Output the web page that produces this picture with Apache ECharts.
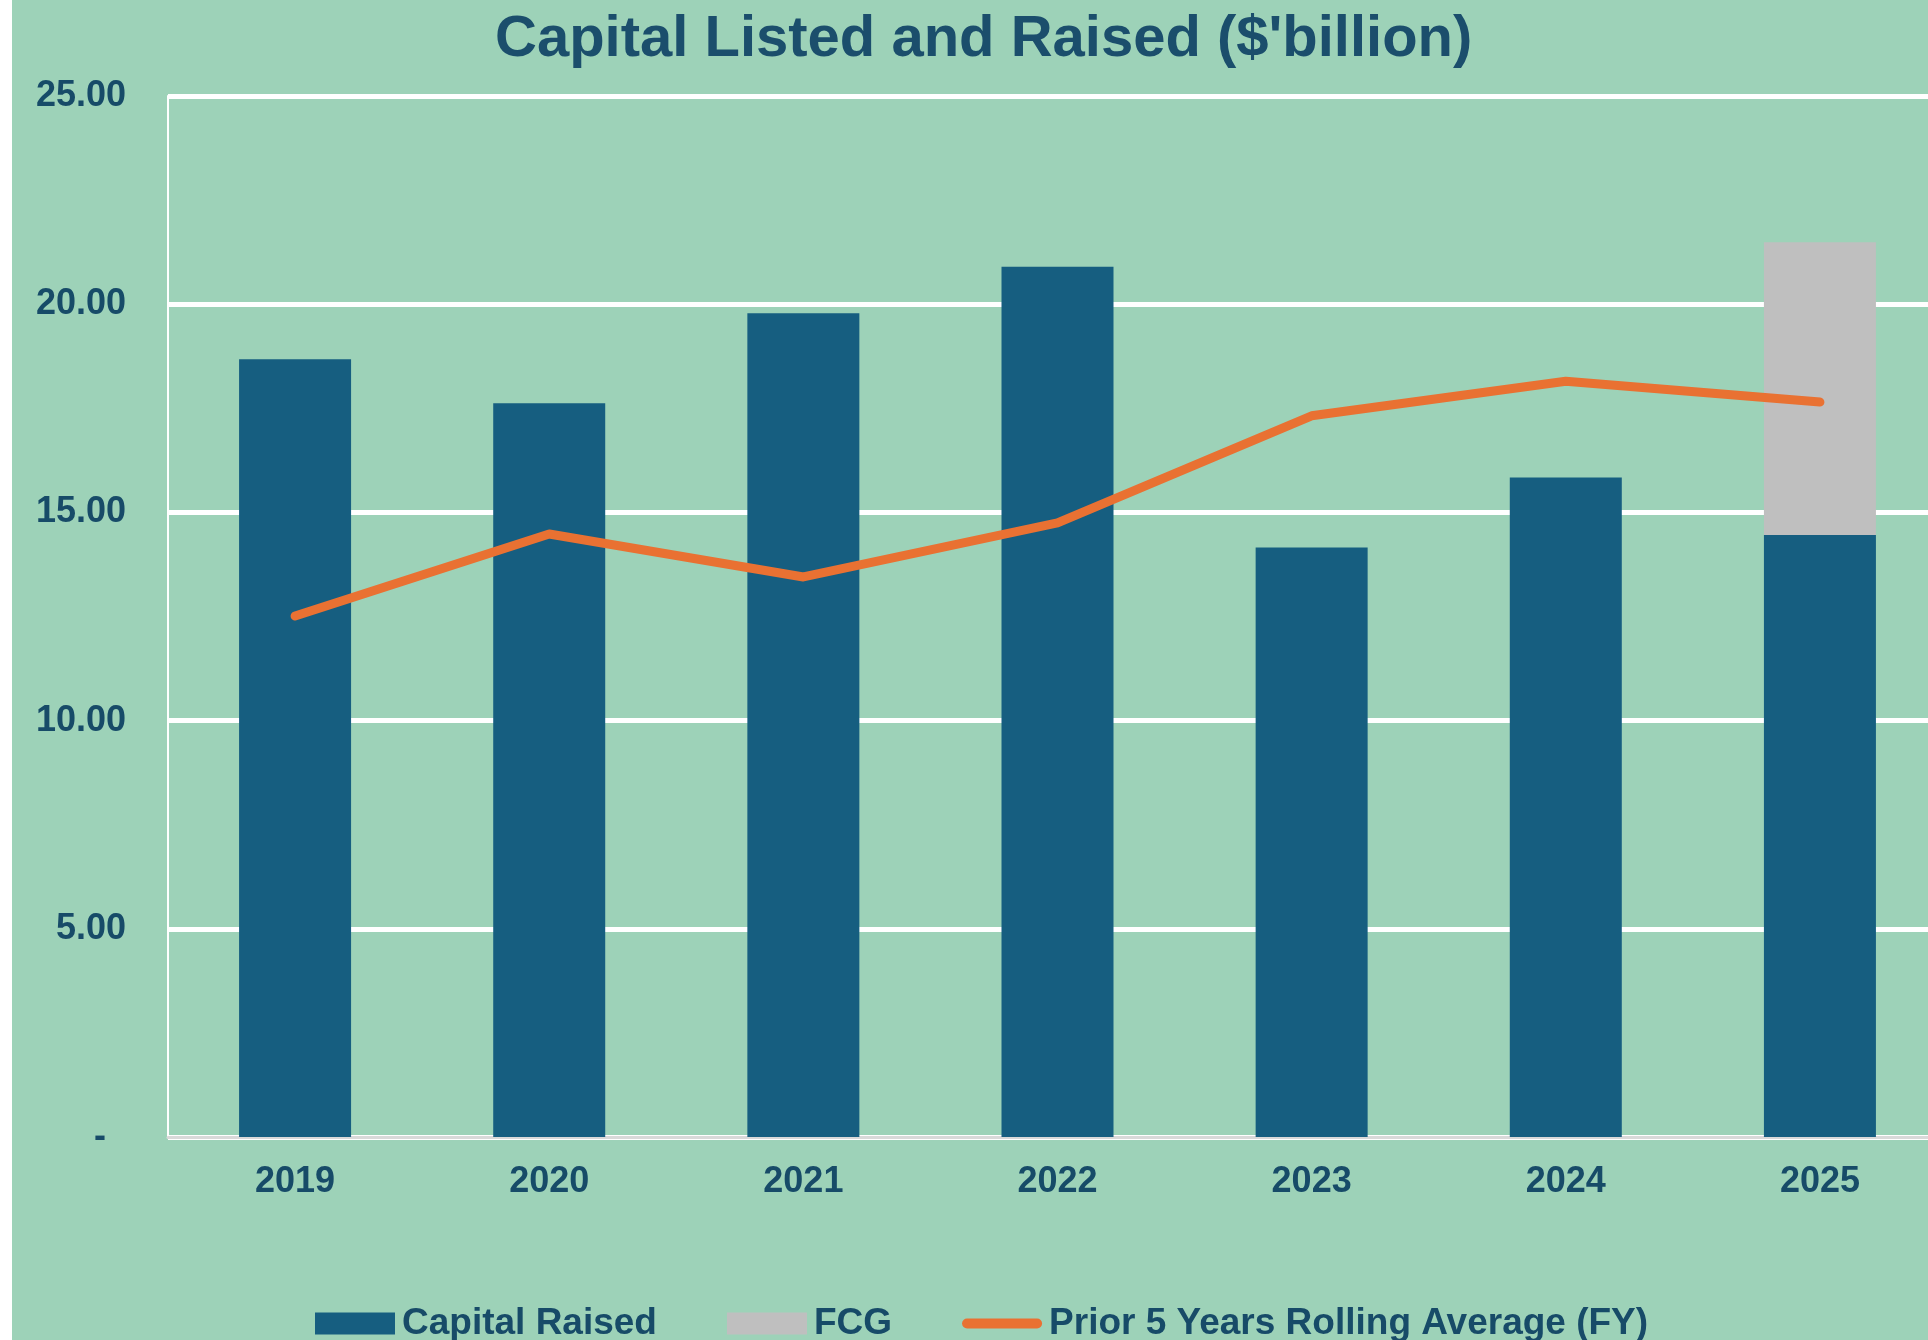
<!DOCTYPE html>
<html>
<head>
<meta charset="utf-8">
<script src="https://cdn.jsdelivr.net/npm/echarts@6/dist/echarts.min.js"></script>
<style>
  html, body { margin: 0; padding: 0; background: #ffffff; overflow: hidden; }
  #main { position: absolute; left: 12px; top: 0; width: 1960px; height: 1340px; }
</style>
</head>
<body>
<div id="main"></div>
<script>
// data
var years = ['2019', '2020', '2021', '2022', '2023', '2024', '2025'];
var capitalRaised = [18.68, 17.62, 19.78, 20.90, 14.16, 15.84, 14.46];
var fcg = [0, 0, 0, 0, 0, 0, 7.03];
var rollingAvg = [12.51, 14.48, 13.45, 14.75, 17.32, 18.15, 17.65];

var textColor = '#174b68';
var fontName = '"Liberation Sans", Arial, sans-serif';

var myChart = echarts.init(document.getElementById('main'));
var option = {
    backgroundColor: '#9dd2b8',
    animation: false,
    title: {
        text: "Capital Listed and Raised ($'billion)",
        left: 478,
        top: 6,
        textStyle: {
            color: '#1b4e6c',
            fontSize: 58,
            fontWeight: 'bold',
            fontFamily: fontName
        }
    },
    legend: {
        left: 298,
        top: 1300,
        itemGap: 70,
        itemWidth: 80,
        itemHeight: 22,
        textStyle: {
            color: textColor,
            fontSize: 37,
            fontWeight: 'bold',
            fontFamily: fontName,
            padding: [0, 0, 0, 2]
        },
        data: [
            { name: 'Capital Raised', icon: 'rect' },
            { name: 'FCG', icon: 'rect' },
            {
                name: 'Prior 5 Years Rolling Average (FY)',
                // rounded thick dash like the excel legend key
                icon: 'path://M5,0 L75,0 A5,5 0 0 1 75,10 L5,10 A5,5 0 0 1 5,0 Z',
                itemStyle: { color: '#e97132' }
            }
        ]
    },
    grid: {
        left: 156,
        top: 96,
        width: 1779,
        bottom: 203
    },
    xAxis: {
        type: 'category',
        data: years,
        axisLine: { show: true, lineStyle: { color: '#d9d9d9', width: 3 } },
        axisTick: { show: false },
        axisLabel: {
            margin: 27,
            color: textColor,
            fontSize: 36,
            fontWeight: 'bold',
            fontFamily: fontName
        }
    },
    yAxis: {
        type: 'value',
        min: 0,
        max: 25,
        interval: 5,
        axisLine: { show: true, lineStyle: { color: '#ffffff', width: 2 } },
        axisTick: { show: false },
        splitLine: { lineStyle: { color: '#ffffff', width: 5 } },
        axisLabel: {
            margin: 42,
            color: textColor,
            fontSize: 36,
            fontWeight: 'bold',
            fontFamily: fontName,
            formatter: function (v) {
                return v === 0 ? '-  ' : v.toFixed(2);
            }
        }
    },
    series: [
        {
            name: 'Capital Raised',
            type: 'bar',
            stack: 'total',
            barWidth: 112,
            itemStyle: { color: '#165e80' },
            data: capitalRaised
        },
        {
            name: 'FCG',
            type: 'bar',
            stack: 'total',
            barWidth: 112,
            itemStyle: { color: '#bfbfbf' },
            data: fcg
        },
        {
            name: 'Prior 5 Years Rolling Average (FY)',
            type: 'line',
            symbol: 'none',
            z: 5,
            itemStyle: { color: '#e97132' },
            lineStyle: { color: '#e97132', width: 9, cap: 'round', join: 'round' },
            data: rollingAvg
        }
    ]
};
myChart.setOption(option);
</script>
</body>
</html>
